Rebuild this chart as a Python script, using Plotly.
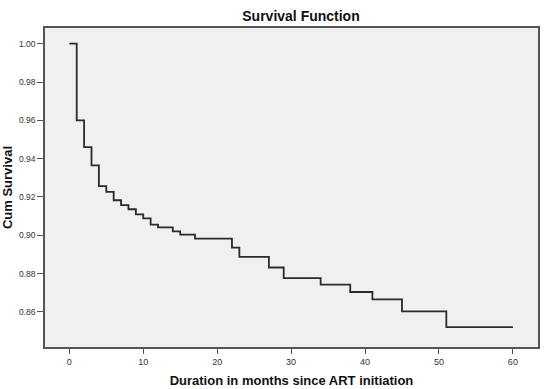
import plotly.graph_objects as go

# Kaplan-Meier survival estimate (step function)
times = [0, 1, 2, 3, 4, 5, 6, 7, 8, 9, 10, 11, 12, 14, 15, 17, 22, 23, 27, 29, 34, 38, 41, 45, 51, 60]
survival = [1.000, 0.960, 0.946, 0.9365, 0.9257, 0.9227, 0.9183, 0.9157, 0.9136, 0.9109,
            0.9088, 0.9056, 0.9041, 0.9021, 0.9004, 0.8983, 0.8936, 0.8887, 0.8832, 0.8777,
            0.8743, 0.8704, 0.8666, 0.8603, 0.8521, 0.8521]

x_ticks = [0, 10, 20, 30, 40, 50, 60]
y_ticks = [0.86, 0.88, 0.90, 0.92, 0.94, 0.96, 0.98, 1.00]

fig = go.Figure()
fig.add_trace(go.Scatter(
    x=times, y=survival, mode="lines",
    line=dict(shape="hv", color="#2a2a2a", width=1.8),
    showlegend=False, hoverinfo="x+y",
))

W, H = 550, 389
font_family = "Liberation Sans, Arial, sans-serif"
fig.update_layout(
    width=W, height=H,
    margin=dict(l=45, r=12, t=28, b=42, autoexpand=False),
    paper_bgcolor="white",
    plot_bgcolor="#f0f0f0",
    font=dict(family=font_family, color="#333333", size=9),
    title=dict(text="<b>Survival Function</b>", x=301 / W, xanchor="center",
               y=1 - 16.5 / H, yref="container", yanchor="middle",
               font=dict(size=14, color="#111111", family=font_family)),
)
fig.update_xaxes(
    range=[-3.29, 63.4], tickvals=x_ticks, ticktext=[str(v) for v in x_ticks],
    showgrid=False, zeroline=False, showline=True, linecolor="#555555", linewidth=1.5, mirror=True,
    ticks="outside", ticklen=5, tickcolor="#555555", automargin=False,
    tickfont=dict(size=9, color="#333333"),
    title=dict(text="<b>Duration in months since ART initiation</b>", standoff=10,
               font=dict(size=13, color="#111111")),
)
fig.update_yaxes(
    range=[0.8417, 1.0082], tickvals=y_ticks, ticktext=[f"{v:.2f}" for v in y_ticks],
    showgrid=False, zeroline=False, showline=True, linecolor="#555555", linewidth=1.5, mirror=True,
    ticks="outside", ticklen=6, tickcolor="#555555", automargin=False,
    tickfont=dict(size=8.5, color="#333333"),
    title=dict(text="<b>Cum Survival</b>", standoff=4, font=dict(size=13, color="#111111")),
)

fig.write_html("out.html", config={"displayModeBar": False},
               post_script="document.body.style.margin='0';")
